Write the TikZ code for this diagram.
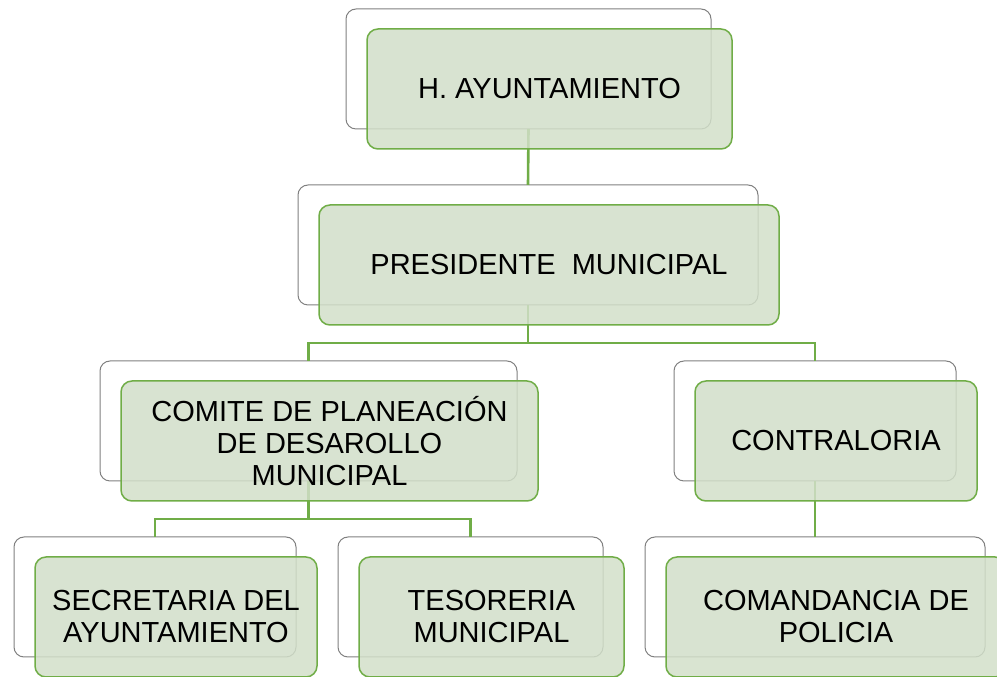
\documentclass[tikz,border=0pt]{standalone}
\usepackage{fontspec}
\setmainfont{Liberation Sans}
\usetikzlibrary{calc}

\definecolor{boxline}{RGB}{112,173,71}
\definecolor{boxfill}{RGB}{210,223,201}

\tikzset{
  back/.style={draw=gray, fill=white, rounded corners=10pt, line width=1pt,
    minimum height=120pt, inner sep=0pt, outer sep=0pt},
  front/.style={draw=boxline, fill=boxfill, fill opacity=0.85, draw opacity=1,
    text opacity=1, rounded corners=11pt, line width=1.5pt, minimum height=120pt,
    inner sep=0pt, outer sep=0pt, align=center, font=\fontsize{29}{32}\selectfont},
  link/.style={draw=boxline, line width=2.6pt}
}

\begin{document}
\begin{tikzpicture}[x=1pt,y=1pt]

\def\dx{21}
\def\dy{-20}
\def\drop{38}

\path [use as bounding box] (0,0) rectangle (997,677);

% BACK
\node [back, minimum width=365pt] (hay) at (528.5,608) {};
\node [back, minimum width=460pt] (pres) at (528,432) {};
\node [back, minimum width=417pt] (comite) at (308.5,256) {};
\node [back, minimum width=282pt] (contra) at (815,256) {};
\node [back, minimum width=282pt] (secre) at (155,80) {};
\node [back, minimum width=265pt] (teso) at (470.5,80) {};
\node [back, minimum width=340pt] (coman) at (815,80) {};

% LINKS
\draw [link] (hay.south) -- (pres.north);
\draw [link] (pres.south) -- ++(0,-\drop) -| (comite.north);
\draw [link] (pres.south) -- ++(0,-\drop) -| (contra.north);
\draw [link] (comite.south) -- ++(0,-\drop) -| (secre.north);
\draw [link] (comite.south) -- ++(0,-\drop) -| (teso.north);
\draw [link] (contra.south) -- (coman.north);

% FRONT
\node [front, minimum width=365pt] (hayF) at ($(hay)+(\dx,\dy)$) {H. AYUNTAMIENTO};
\node [front, minimum width=460pt] (presF) at ($(pres)+(\dx,\dy)$) {PRESIDENTE\ \ MUNICIPAL};
\node [front, minimum width=417pt] (comiteF) at ($(comite)+(\dx,\dy)$) {COMITE DE PLANEACIÓN\\DE DESAROLLO\\MUNICIPAL};
\node [front, minimum width=282pt] (contraF) at ($(contra)+(\dx,\dy)$) {CONTRALORIA};
\node [front, minimum width=282pt] (secreF) at ($(secre)+(\dx,\dy)$) {SECRETARIA DEL\\AYUNTAMIENTO};
\node [front, minimum width=265pt] (tesoF) at ($(teso)+(\dx,\dy)$) {TESORERIA\\MUNICIPAL};
\node [front, minimum width=340pt] (comanF) at ($(coman)+(\dx,\dy)$) {COMANDANCIA DE\\POLICIA};

\end{tikzpicture}
\end{document}
